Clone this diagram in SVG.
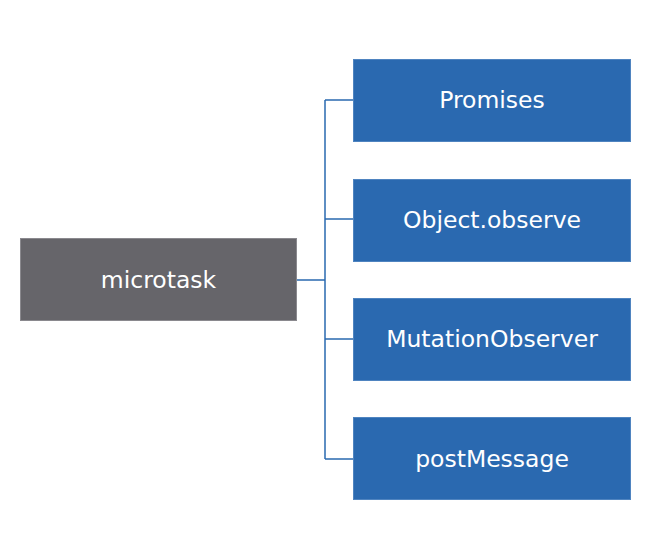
<svg xmlns="http://www.w3.org/2000/svg" width="666" height="540" viewBox="0 0 666 540">
<style>
.b{fill:#2a69b0;stroke:#4f84c0;stroke-width:1}
.g{fill:#66656a;stroke:#8a898e;stroke-width:1}
.t{font-family:"DejaVu Sans",Verdana,sans-serif;font-size:23.5px;fill:#ffffff;text-anchor:middle;dominant-baseline:central}
.c{fill:none;stroke:#2a69b0;stroke-width:1.5}
</style>
<rect width="666" height="540" fill="#ffffff"/>
<g id="connectors">
<path class="c" d="M297,280H325M325,100V459M325,100H353M325,219H353M325,339H353M325,459H353"/>
</g>
<g id="microtask"><rect class="g" x="20.5" y="238.5" width="276" height="82"/><text class="t" x="158.5" y="279.5">microtask</text></g>
<g id="promises"><rect class="b" x="353.5" y="59.5" width="277" height="82"/><text class="t" x="492" y="100">Promises</text></g>
<g id="objectobserve"><rect class="b" x="353.5" y="179.5" width="277" height="82"/><text class="t" x="492" y="219.5">Object.observe</text></g>
<g id="mutationobserver"><rect class="b" x="353.5" y="298.5" width="277" height="82"/><text class="t" x="492" y="339">MutationObserver</text></g>
<g id="postmessage"><rect class="b" x="353.5" y="417.5" width="277" height="82"/><text class="t" x="492" y="459">postMessage</text></g>
</svg>
